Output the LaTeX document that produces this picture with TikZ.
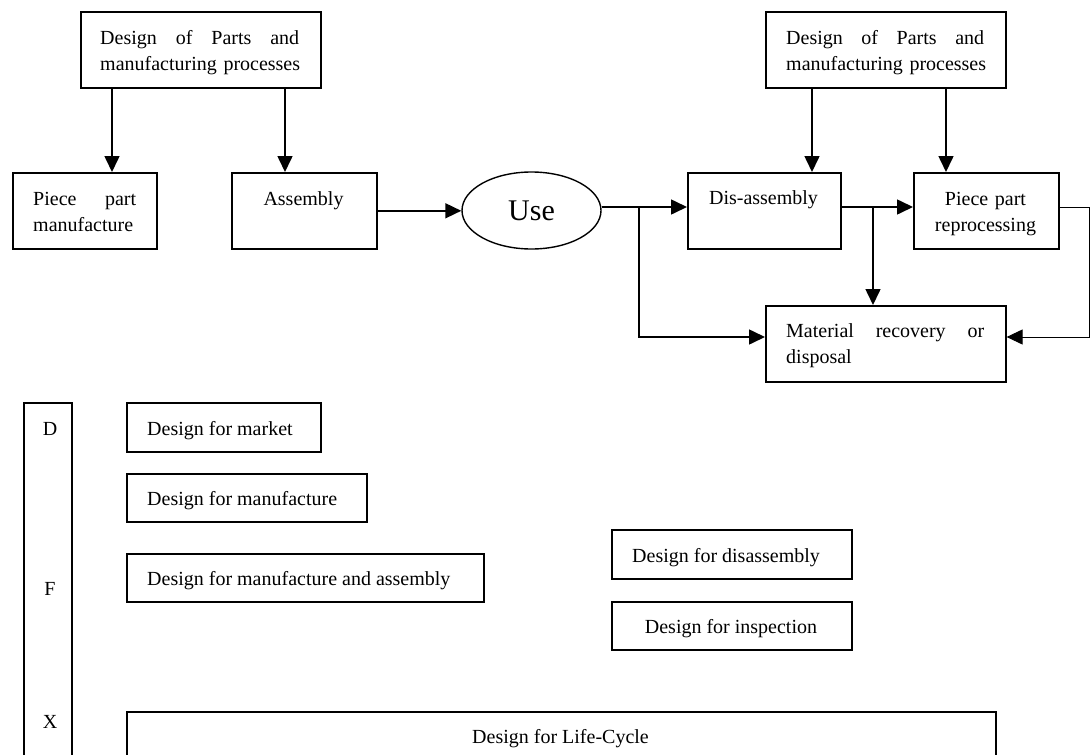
\documentclass[tikz,border=0pt]{standalone}
\usepackage{fontspec}
\setmainfont{Liberation Serif}
\usetikzlibrary{arrows.meta,shapes.geometric}

\tikzset{
  box/.style={draw, line width=1.6pt, inner sep=0pt, anchor=north west},
  txt/.style={inner sep=0pt, anchor=north west, align=left,
              font=\fontsize{20}{26}\selectfont},
  ctxt/.style={inner sep=0pt, anchor=north, align=center,
              font=\fontsize{20}{26}\selectfont},
  lbl/.style={inner sep=0pt, anchor=base, font=\fontsize{20}{26}\selectfont},
  lblw/.style={inner sep=0pt, anchor=base west, font=\fontsize{20}{26}\selectfont},
  arr/.style={line width=1.6pt, -{Triangle[length=16pt,width=15pt]}},
  thinarr/.style={line width=1pt, -{Triangle[length=16pt,width=15pt]}},
}
% strut for the first line of a block of text
\newcommand{\fst}{\rule{0pt}{15pt}}

\begin{document}
\begin{tikzpicture}[x=1pt,y=-1pt]
  \useasboundingbox (0,0) rectangle (1090,755);
  \clip (0,0) rectangle (1090,755);

  % ---------- upper flow: production, use, end of life ----------
  \node[box, minimum width=240, minimum height=76] (dp1) at (80,11) {};
  \node[txt, text width=215pt] (dp1t) at (100,29)
    {\fst\makebox[199pt][l]{Design\hfill of\hfill Parts\hfill and}\\\mbox{manufacturing processes}};

  \node[box, minimum width=144, minimum height=76] (ppm) at (12,172) {};
  \node[txt, text width=120pt] (ppmt) at (33,190)
    {\fst\makebox[103pt][l]{Piece\hfill part}\\\mbox{manufacture}};

  \node[box, minimum width=145, minimum height=76] (asm) at (231,172) {};
  \node[lbl] (asmt) at (303.5,205) {Assembly};

  \node[draw, ellipse, line width=1.4pt, inner sep=0pt,
        minimum width=139, minimum height=77,
        font=\fontsize{30}{30}\selectfont] (use) at (531.5,210.5) {Use};

  \node[box, minimum width=153, minimum height=76] (da) at (687,172) {};
  \node[lbl] (dat) at (763.5,204) {Dis-assembly};

  \node[box, minimum width=240, minimum height=76] (dp2) at (765,11) {};
  \node[txt, text width=215pt] (dp2t) at (786,29)
    {\fst\makebox[198pt][l]{Design\hfill of\hfill Parts\hfill and}\\\mbox{manufacturing processes}};

  \node[box, minimum width=145, minimum height=76] (ppr) at (913,172) {};
  \node[ctxt, text width=145pt] (pprt) at (985.5,190)
    {\fst Piece part\\reprocessing};

  \node[box, minimum width=240, minimum height=76] (mr) at (765,305) {};
  \node[txt, text width=215pt] (mrt) at (786,322)
    {\fst\makebox[198pt][l]{Material\hfill recovery\hfill or}\\\mbox{disposal}};

  % levels and junctions of the connectors
  \coordinate (lv) at (0,207);
  \coordinate (mrlv) at (0,337);
  \coordinate (j1) at (639,207);
  \coordinate (j2) at (873,207);
  \coordinate (rt) at (1089,207);

  \draw[arr] (dp1.south west) ++(32,0) coordinate (a1) -- (a1 |- ppm.north);
  \draw[arr] (dp1.south west) ++(205,0) coordinate (a2) -- (a2 |- asm.north);
  \draw[arr] (dp2.south west) ++(47,0) coordinate (a3) -- (a3 |- da.north);
  \draw[arr] (dp2.south west) ++(181,0) coordinate (a4) -- (a4 |- ppr.north);

  \draw[arr] (asm.east) -- (asm.east -| use.west);
  \draw[arr] (use.east |- lv) -- (da.west |- lv);
  \draw[arr] (j1) |- (mr.west |- mrlv);
  \draw[arr] (da.east |- lv) -- (ppr.west |- lv);
  \draw[arr] (j2) -- (j2 |- mr.north);
  \draw[thinarr] (ppr.east |- lv) -- (rt) |- (mr.east |- mrlv);

  % ---------- lower part: the DFX family ----------
  \node[box, minimum width=48, minimum height=400] (dfx) at (23,402) {};
  \node[lbl] (dl) at (50,435) {D};
  \node[lbl] (fl) at (50,595) {F};
  \node[lbl] (xl) at (50,728) {X};

  \node[box, minimum width=194, minimum height=49] (dmk) at (126,402) {};
  \node[lblw] (dmkt) at (147,435) {Design for market};

  \node[box, minimum width=240, minimum height=48] (dmf) at (126,473) {};
  \node[lblw] (dmft) at (147,505) {Design for manufacture};

  \node[box, minimum width=357, minimum height=48] (dma) at (126,553) {};
  \node[lblw] (dmat) at (147,585) {Design for manufacture and assembly};

  \node[box, minimum width=240, minimum height=49] (dds) at (611,529) {};
  \node[lblw] (ddst) at (632,562) {Design for disassembly};

  \node[box, minimum width=240, minimum height=48] (din) at (611,601) {};
  \node[lbl] (dint) at (731,633) {Design for inspection};

  \node[box, minimum width=869, minimum height=80] (dlc) at (126,711) {};
  \node[lbl] (dlct) at (560.5,743) {Design for Life-Cycle};
\end{tikzpicture}
\end{document}
